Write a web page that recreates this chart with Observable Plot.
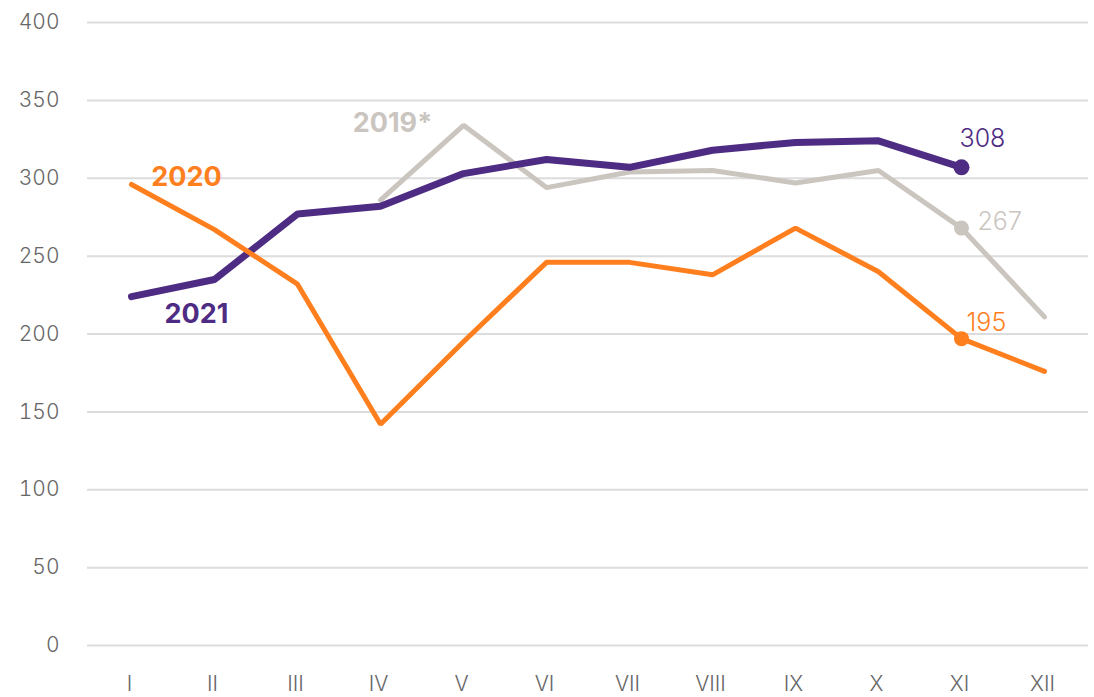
<!DOCTYPE html>
<html>
<head>
<meta charset="utf-8">
<script src="https://cdn.jsdelivr.net/npm/d3@7"></script>
<script src="https://cdn.jsdelivr.net/npm/@observablehq/plot@0.6"></script>
<style>
  html, body { margin: 0; padding: 0; background: #fff; }
  #chart svg { display: block; }
</style>
</head>
<body>
<div id="chart"></div>
<script>
const months = ["I","II","III","IV","V","VI","VII","VIII","IX","X","XI","XII"];
const yTicks = [0, 50, 100, 150, 200, 250, 300, 350, 400];
const v2019 = [null, null, null, 286, 334, 294, 304, 305, 297, 305, 268, 211];
const v2020 = [296, 267, 232, 142, 195, 246, 246, 238, 268, 240, 197, 176];
const v2021 = [224, 235, 277, 282, 303, 312, 307, 318, 323, 324, 307, null];
const endLabels = {"2019*": "267", "2020": "195", "2021": "308"};

const colors = {"2019*": "#cbc5bf", "2020": "#ff7f1e", "2021": "#4e2c83"};

const tidy = (name, vals) => months.map((m, i) => ({series: name, month: m, value: vals[i] == null ? NaN : vals[i]}));
const d2019 = tidy("2019*", v2019);
const d2020 = tidy("2020", v2020);
const d2021 = tidy("2021", v2021);

const lastOf = (d) => d.filter(r => r.month === "XI");

const font = "Inter, 'Open Sans', sans-serif";

const chart = Plot.plot({
  width: 1094,
  height: 697,
  marginLeft: 87,
  marginRight: 6,
  marginTop: 22,
  marginBottom: 52,
  style: {fontFamily: font, fontSize: "21px", color: "#666", background: "#fff", fontWeight: 300},
  x: {type: "point", domain: months, padding: 0.5, label: null},
  y: {domain: [0, 400], label: null},
  marks: [
    Plot.ruleY(yTicks, {stroke: "#dcdcdc", strokeWidth: 2}),
    Plot.axisY({ticks: yTicks, tickSize: 0, tickPadding: 28, label: null, fill: "#666"}),
    Plot.axisX({tickSize: 0, tickPadding: 31, label: null, fill: "#666", dx: -2}),
    Plot.line(d2019, {x: "month", y: "value", stroke: colors["2019*"], strokeWidth: 5, strokeLinecap: "round", strokeLinejoin: "miter"}),
    Plot.line(d2021, {x: "month", y: "value", stroke: colors["2021"], strokeWidth: 7, strokeLinecap: "round", strokeLinejoin: "miter"}),
    Plot.line(d2020, {x: "month", y: "value", stroke: colors["2020"], strokeWidth: 5, strokeLinecap: "round", strokeLinejoin: "miter"}),
    Plot.dot(lastOf(d2019), {x: "month", y: "value", r: 7.5, fill: colors["2019*"]}),
    Plot.dot(lastOf(d2020), {x: "month", y: "value", r: 7.5, fill: colors["2020"]}),
    Plot.dot(lastOf(d2021), {x: "month", y: "value", r: 8, fill: colors["2021"]}),
    // end value labels
    Plot.text(lastOf(d2021), {x: "month", y: "value", text: d => endLabels[d.series], fill: colors["2021"], fontSize: 25, fontWeight: 300, textAnchor: "start", dx: -2, dy: -28}),
    Plot.text(lastOf(d2019), {x: "month", y: "value", text: d => endLabels[d.series], fill: colors["2019*"], fontSize: 25, fontWeight: 300, textAnchor: "start", dx: 16, dy: -6}),
    Plot.text(lastOf(d2020), {x: "month", y: "value", text: d => endLabels[d.series], fill: colors["2020"], fontSize: 25, fontWeight: 300, textAnchor: "start", dx: 5, dy: -16}),
    // series name labels
    Plot.text(d2020.filter(r => r.month === "I"), {x: "month", y: "value", text: "series", fill: colors["2020"], fontSize: 27, fontWeight: 700, textAnchor: "middle", dx: 55, dy: -7}),
    Plot.text(d2021.filter(r => r.month === "I"), {x: "month", y: "value", text: "series", fill: colors["2021"], fontSize: 27, fontWeight: 700, textAnchor: "middle", dx: 65, dy: 18}),
    Plot.text(d2019.filter(r => r.month === "V"), {x: "month", y: "value", text: "series", fill: colors["2019*"], fontSize: 27, fontWeight: 700, textAnchor: "middle", dx: -71, dy: -2})
  ]
});
document.getElementById("chart").appendChild(chart);
</script>
</body>
</html>
